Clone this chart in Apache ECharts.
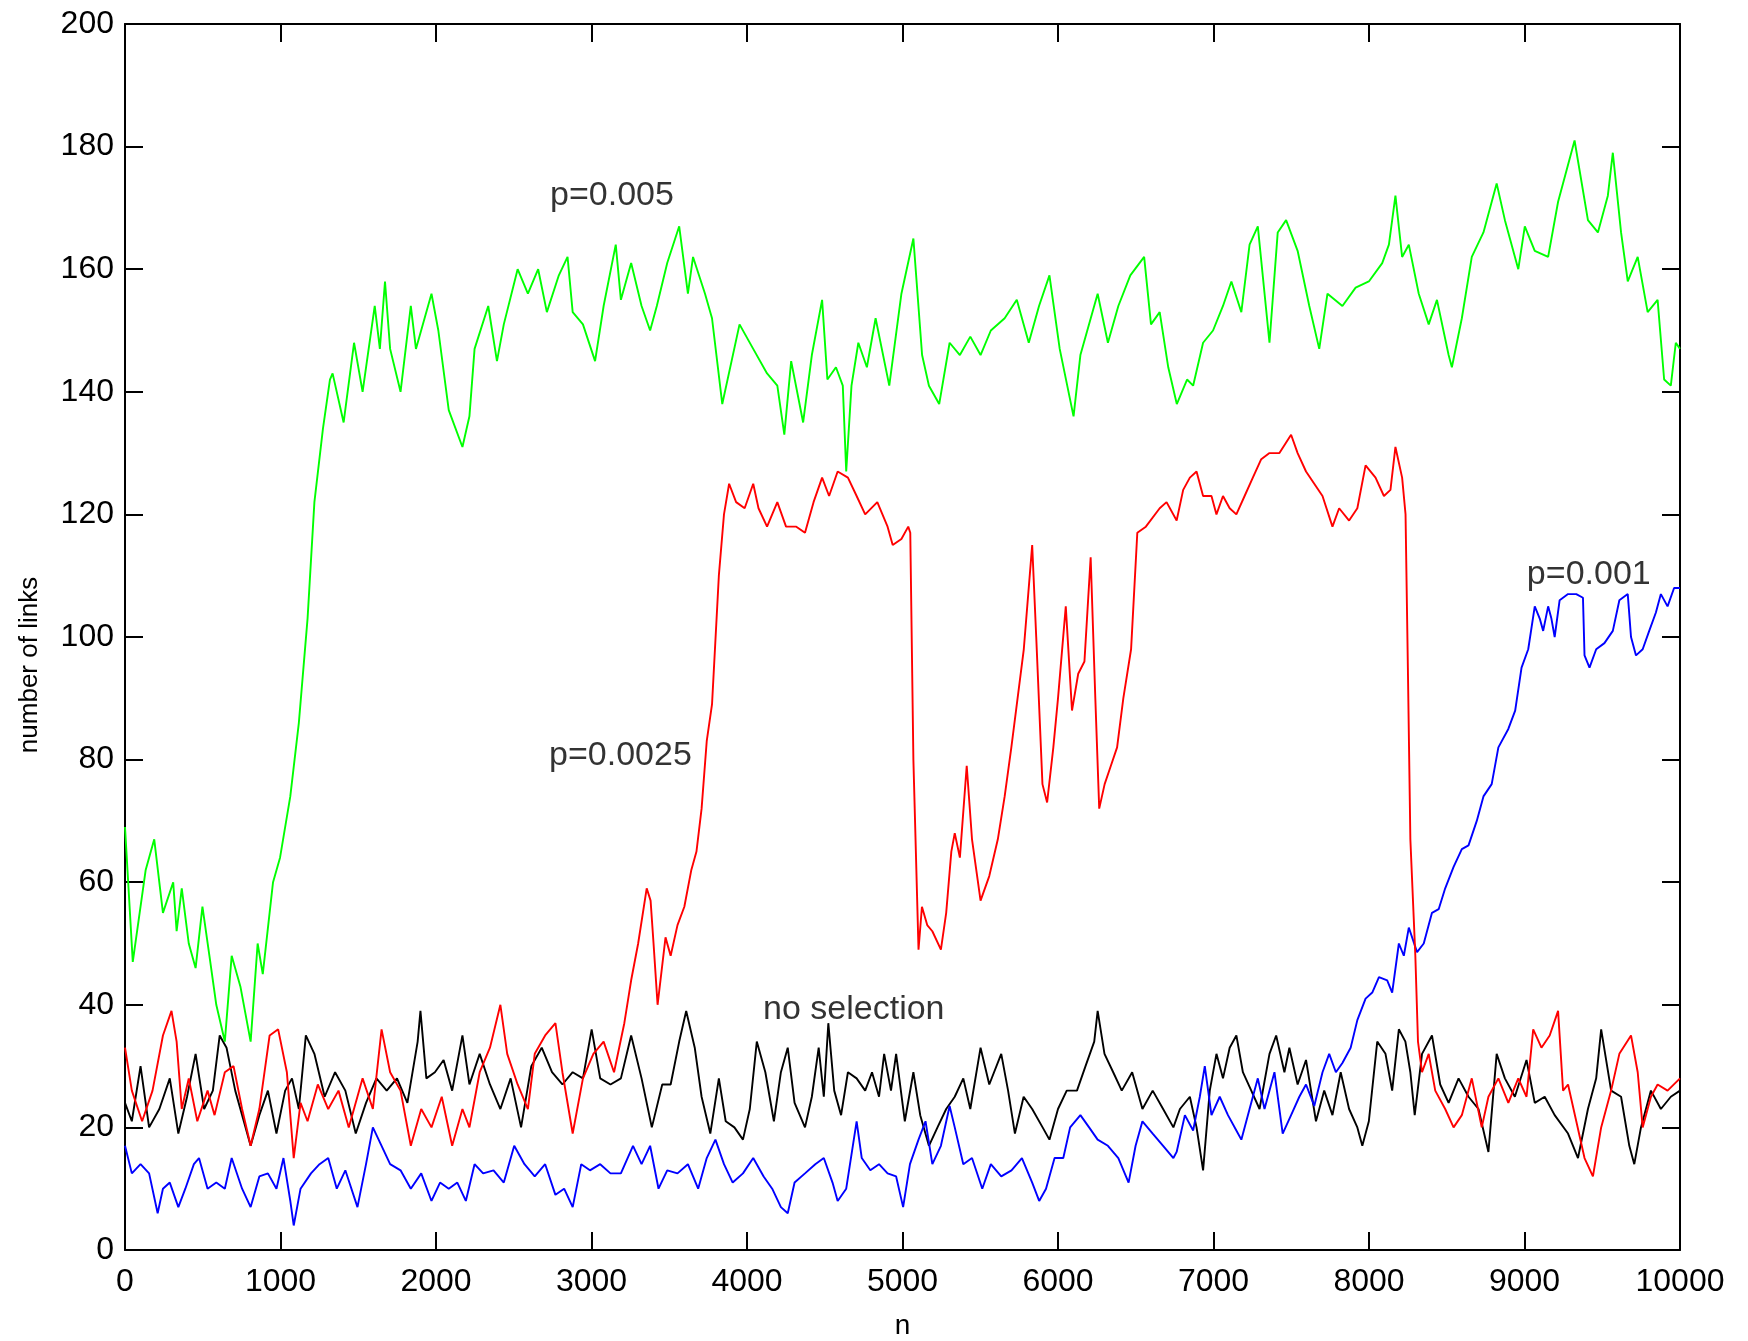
<!DOCTYPE html>
<html>
<head>
<meta charset="utf-8">
<script src="https://cdn.jsdelivr.net/npm/echarts@6/dist/echarts.min.js"></script>
<style>
html,body{margin:0;padding:0;background:#fff;}
#c{width:1748px;height:1341px;}
</style>
</head>
<body>
<div id="c"></div>
<script>
// p=0.005 (green)
const green = [[0,69],[50,47],[133,62],[188,67],[244,55],[310,60],[332,52],[365,59],[410,50],[454,46],[498,56],[543,48],[587,40],[642,34],[686,48],[742,43],[808,34],[853,50],[886,45],[952,60],[997,64],[1063,74],[1118,86],[1174,103],[1218,122],[1273,134],[1318,142],[1335,143],[1406,135],[1473,148],[1528,140],[1606,154],[1639,147],[1672,158],[1705,147],[1772,140],[1838,154],[1871,147],[1971,156],[2015,150],[2082,137],[2170,131],[2215,136],[2248,147],[2336,154],[2392,145],[2436,151],[2525,160],[2591,156],[2657,160],[2713,153],[2790,159],[2846,162],[2879,153],[2945,151],[3023,145],[3078,154],[3156,164],[3189,155],[3255,161],[3322,154],[3377,150],[3420,154],[3487,161],[3564,167],[3620,156],[3653,162],[3730,156],[3775,152],[3841,138],[3952,151],[4040,147],[4129,143],[4195,141],[4240,133],[4284,145],[4361,135],[4417,146],[4483,155],[4517,142],[4572,144],[4616,141],[4638,127],[4672,141],[4716,148],[4771,144],[4827,152],[4915,141],[4993,156],[5070,165],[5126,146],[5170,141],[5236,138],[5303,148],[5369,146],[5436,149],[5502,146],[5568,150],[5657,152],[5735,155],[5812,148],[5878,154],[5945,159],[6011,147],[6100,136],[6144,146],[6255,156],[6321,148],[6388,154],[6465,159],[6554,162],[6598,151],[6654,153],[6709,144],[6764,138],[6830,142],[6869,141],[6933,148],[6997,150],[7061,154],[7115,158],[7179,153],[7232,164],[7285,167],[7360,148],[7413,166],[7467,168],[7541,163],[7616,154],[7680,147],[7733,156],[7829,154],[7914,157],[7999,158],[8085,161],[8128,164],[8170,172],[8213,162],[8256,164],[8320,156],[8384,151],[8437,155],[8512,146],[8533,144],[8597,152],[8661,162],[8736,166],[8821,174],[8874,168],[8960,160],[9002,167],[9066,163],[9152,162],[9216,171],[9322,181],[9408,168],[9472,166],[9536,172],[9568,179],[9621,166],[9664,158],[9728,162],[9792,153],[9856,155],[9898,142],[9941,141],[9973,148],[10000,147]];

// p=0.0025 (red)
const red = [[0,33],[44,26],[110,21],[177,26],[244,35],[299,39],[332,34],[365,23],[410,28],[465,21],[531,26],[576,22],[642,29],[698,30],[753,23],[808,17],[864,23],[930,35],[985,36],[1041,29],[1085,15],[1129,24],[1174,21],[1240,27],[1307,23],[1373,26],[1439,20],[1528,28],[1594,23],[1650,36],[1705,29],[1772,26],[1838,17],[1905,23],[1971,20],[2037,25],[2104,17],[2170,23],[2215,20],[2281,29],[2347,33],[2414,40],[2458,32],[2525,27],[2591,23],[2635,32],[2702,35],[2768,37],[2813,29],[2879,19],[2945,28],[3012,32],[3078,34],[3145,29],[3211,37],[3255,44],[3300,50],[3355,59],[3380,57],[3399,50],[3425,40],[3476,51],[3509,48],[3553,53],[3597,56],[3642,62],[3675,65],[3708,72],[3741,83],[3775,89],[3819,110],[3852,120],[3885,125],[3930,122],[3985,121],[4040,125],[4074,121],[4129,118],[4195,122],[4251,118],[4317,118],[4373,117],[4428,122],[4483,126],[4528,123],[4583,127],[4649,126],[4705,123],[4760,120],[4838,122],[4904,118],[4937,115],[4993,116],[5037,118],[5050,117],[5070,80],[5103,49],[5125,56],[5159,53],[5192,52],[5247,49],[5281,55],[5314,65],[5336,68],[5369,64],[5413,79],[5447,67],[5502,57],[5558,61],[5613,67],[5657,74],[5700,82],[5740,90],[5780,98],[5834,115],[5860,100],[5900,76],[5930,73],[5970,82],[6000,90],[6050,105],[6090,88],[6130,94],[6170,96],[6210,113],[6240,90],[6265,72],[6300,76],[6340,79],[6380,82],[6420,90],[6470,98],[6510,117],[6565,118],[6654,121],[6698,122],[6763,119],[6805,124],[6848,126],[6891,127],[6933,123],[6987,123],[7019,120],[7061,123],[7104,121],[7147,120],[7200,123],[7253,126],[7307,129],[7360,130],[7424,130],[7499,133],[7541,130],[7595,127],[7648,125],[7701,123],[7765,118],[7808,121],[7872,119],[7925,121],[7978,128],[8042,126],[8096,123],[8138,124],[8170,131],[8213,126],[8235,120],[8250,95],[8266,67],[8298,48],[8315,34],[8341,29],[8384,32],[8426,26],[8490,23],[8544,20],[8597,22],[8661,28],[8725,20],[8768,25],[8832,28],[8896,24],[8960,28],[9013,25],[9056,36],[9109,33],[9162,35],[9216,39],[9248,26],[9280,27],[9333,21],[9386,15],[9440,12],[9493,20],[9557,26],[9610,32],[9685,35],[9728,29],[9760,20],[9813,25],[9856,27],[9920,26],[10000,28]];

// no selection (black)
const black = [[0,24],[44,21],[100,30],[155,20],[221,23],[288,28],[343,19],[399,25],[454,32],[509,23],[565,26],[609,35],[653,33],[709,26],[764,21],[808,17],[864,22],[919,26],[974,19],[1030,26],[1074,28],[1118,23],[1163,35],[1218,32],[1284,25],[1351,29],[1417,26],[1484,19],[1550,24],[1617,28],[1683,26],[1749,28],[1816,24],[1882,34],[1900,39],[1938,28],[1993,29],[2049,31],[2104,26],[2170,35],[2215,27],[2281,32],[2347,27],[2414,23],[2480,28],[2547,20],[2613,30],[2680,33],[2746,29],[2813,27],[2879,29],[2945,28],[3001,36],[3056,28],[3122,27],[3189,28],[3255,35],[3322,28],[3388,20],[3455,27],[3509,27],[3564,34],[3609,39],[3664,33],[3708,25],[3764,19],[3819,28],[3863,21],[3919,20],[3974,18],[4018,23],[4063,34],[4118,29],[4173,21],[4218,29],[4262,33],[4306,24],[4373,20],[4417,25],[4461,33],[4494,25],[4523,37],[4561,26],[4605,22],[4649,29],[4705,28],[4760,26],[4804,29],[4849,25],[4882,32],[4926,26],[4959,32],[5015,21],[5070,29],[5114,22],[5170,17],[5225,20],[5281,23],[5336,25],[5391,28],[5436,23],[5502,33],[5558,27],[5635,32],[5679,26],[5723,19],[5779,25],[5834,23],[5901,20],[5945,18],[6000,23],[6056,26],[6122,26],[6177,30],[6233,34],[6255,39],[6299,32],[6355,29],[6410,26],[6477,29],[6543,23],[6609,26],[6676,23],[6742,20],[6784,23],[6848,25],[6891,20],[6933,13],[6976,26],[7019,32],[7061,28],[7104,33],[7147,35],[7189,29],[7243,26],[7296,23],[7360,32],[7403,35],[7456,29],[7488,33],[7541,27],[7595,31],[7659,21],[7712,26],[7765,22],[7818,29],[7872,23],[7925,20],[7957,17],[7999,21],[8053,34],[8106,32],[8149,26],[8192,36],[8234,34],[8266,29],[8294,22],[8341,32],[8405,35],[8458,27],[8512,24],[8576,28],[8640,25],[8704,23],[8768,16],[8821,32],[8874,28],[8938,25],[9013,31],[9066,24],[9130,25],[9194,22],[9280,19],[9344,15],[9408,23],[9461,28],[9493,36],[9557,26],[9621,25],[9674,17],[9706,14],[9749,20],[9813,26],[9877,23],[9941,25],[10000,26]];

// p=0.001 (blue)
const blue = [[0,17],[44,12.5],[100,14],[155,12.5],[210,6],[244,10],[288,11],[343,7],[388,10],[443,14],[476,15],[531,10],[587,11],[642,10],[686,15],[753,10],[808,7],[864,12],[919,12.5],[974,10],[1019,15],[1063,8],[1085,4],[1129,10],[1196,12.5],[1251,14],[1307,15],[1362,10],[1417,13],[1495,7],[1550,14],[1594,20],[1650,17],[1705,14],[1772,13],[1838,10],[1905,12.5],[1971,8],[2026,11],[2082,10],[2137,11],[2192,8],[2248,14],[2303,12.5],[2370,13],[2436,11],[2503,17],[2569,14],[2635,12],[2702,14],[2768,9],[2824,10],[2879,7],[2934,14],[2990,13],[3056,14],[3122,12.5],[3189,12.5],[3267,17],[3322,14],[3377,17],[3431,10],[3487,13],[3553,12.5],[3620,14],[3686,10],[3741,15],[3797,18],[3852,14],[3908,11],[3974,12.5],[4040,15],[4107,12],[4162,10],[4218,7],[4262,6],[4306,11],[4373,12.5],[4439,14],[4494,15],[4550,11],[4583,8],[4638,10],[4705,21],[4738,15],[4793,13],[4849,14],[4904,12.5],[4959,12],[5004,7],[5048,14],[5103,18],[5148,21],[5192,14],[5247,17],[5303,23.5],[5336,20],[5391,14],[5447,15],[5513,10],[5568,14],[5635,12],[5701,13],[5768,15],[5834,11],[5879,8],[5923,10],[5978,15],[6034,15],[6078,20],[6144,22],[6200,20],[6255,18],[6321,17],[6388,15],[6454,11],[6499,17],[6543,21],[6609,19],[6676,17],[6742,15],[6763,16],[6816,22],[6869,19.5],[6912,25],[6944,30],[6987,22],[7040,25],[7093,22],[7147,19.5],[7179,18],[7232,23],[7285,28],[7328,23],[7392,29],[7445,19],[7499,22],[7552,25],[7595,27],[7648,23.5],[7701,29],[7744,32],[7787,29],[7829,30.5],[7882,33],[7925,37.5],[7978,41],[8021,42],[8064,44.5],[8117,44],[8149,42],[8192,50],[8224,48],[8256,52.6],[8309,48.6],[8352,50],[8405,55],[8448,55.6],[8490,59],[8544,62.5],[8597,65.4],[8640,66],[8693,70],[8736,74],[8789,76],[8832,82],[8896,85],[8940,88],[8981,95],[9024,98],[9066,105],[9098,103],[9120,101],[9152,105],[9173,103],[9194,100],[9226,106],[9280,107],[9333,107],[9376,106.4],[9386,97],[9418,95],[9461,98],[9514,99],[9568,101],[9610,106],[9664,107],[9685,100],[9717,97],[9760,98],[9802,101],[9845,104],[9877,107],[9920,105],[9962,108],[10000,108]];

// annotation texts and their anchor (data coords)
const noteText = ['p=0.005', 'p=0.0025', 'no selection', 'p=0.001'];
const noteN = [2730, 2724, 4100, 9012];
const noteY = [172, 80.7, 39.2, 110.2];

const xTicks = {min: 0, max: 10000, interval: 1000};
const yTicks = {min: 0, max: 200, interval: 20};

const FONT = '"Liberation Sans", Arial, Helvetica, sans-serif';
const chart = echarts.init(document.getElementById('c'), null, {renderer: 'canvas'});

const axisCommon = {
  axisLine: {show: true, onZero: false, lineStyle: {color: '#000', width: 2}},
  axisTick: {show: true, inside: true, length: 18, lineStyle: {color: '#000', width: 2}},
  splitLine: {show: false},
  minorTick: {show: false}
};

function lineSeries(name, data, color) {
  return {
    name: name, type: 'line', data: data, showSymbol: false, symbol: 'none',
    lineStyle: {color: color, width: 1.9}, itemStyle: {color: color},
    animation: false, silent: true
  };
}

const notes = noteText.map((t, i) => ({value: [noteN[i], noteY[i]], name: t}));
const plainNum = v => String(v);

chart.setOption({
  backgroundColor: '#fff',
  animation: false,
  grid: {left: 125, right: 68, top: 24, bottom: 91, containLabel: false, outerBoundsMode: 'none'},
  xAxis: [
    Object.assign({type: 'value', position: 'bottom', min: xTicks.min, max: xTicks.max, interval: xTicks.interval,
      name: 'n', nameLocation: 'middle', nameGap: 62,
      nameTextStyle: {fontFamily: FONT, fontSize: 28, color: '#000'},
      axisLabel: {show: true, margin: 16, fontFamily: FONT, fontSize: 32, color: '#000', formatter: plainNum}}, axisCommon),
    Object.assign({type: 'value', position: 'top', min: xTicks.min, max: xTicks.max, interval: xTicks.interval,
      axisLabel: {show: false}}, axisCommon)
  ],
  yAxis: [
    Object.assign({type: 'value', position: 'left', min: yTicks.min, max: yTicks.max, interval: yTicks.interval,
      name: 'number of links', nameLocation: 'middle', nameGap: 82, nameRotate: 90,
      nameTextStyle: {fontFamily: FONT, fontSize: 26, color: '#000', padding: [0, 56, 0, 0]},
      axisLabel: {show: true, margin: 11, fontFamily: FONT, fontSize: 32, color: '#000', formatter: plainNum}}, axisCommon),
    Object.assign({type: 'value', position: 'right', min: yTicks.min, max: yTicks.max, interval: yTicks.interval,
      axisLabel: {show: false}}, axisCommon)
  ],
  series: [
    lineSeries('no selection', black, '#000000'),
    lineSeries('p=0.001', blue, '#0000ff'),
    lineSeries('p=0.0025', red, '#ff0000'),
    lineSeries('p=0.005', green, '#00ff00'),
    {
      type: 'scatter', data: notes, symbolSize: 1, z: 10, silent: true,
      itemStyle: {color: 'rgba(0,0,0,0)'},
      label: {show: true, position: 'right', distance: 0, formatter: p => p.name,
        fontFamily: FONT, fontSize: 34, color: '#000'}
    }
  ]
});
</script>
</body>
</html>
